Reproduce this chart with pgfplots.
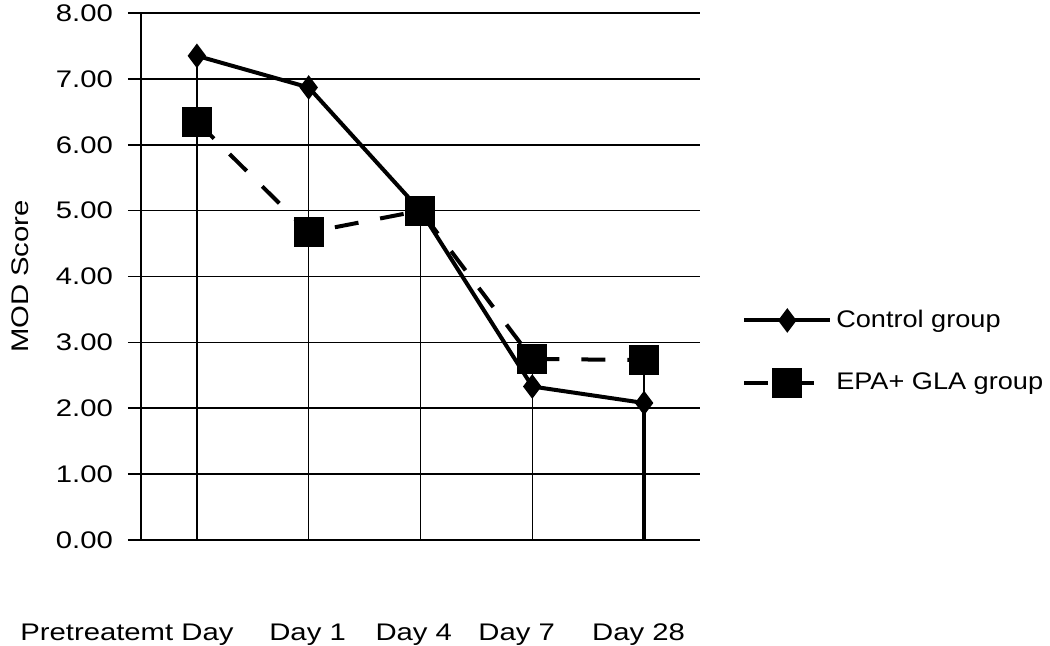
\documentclass[border=0pt]{standalone}
\usepackage{fontspec}
\setmainfont{Liberation Sans}
\newfontfamily\widefont[FakeStretch=1.22]{Liberation Sans}
\newfontfamily\legfont[FakeStretch=1.13]{Liberation Sans}
\usepackage{pgfplots}
\pgfplotsset{compat=1.18}

\begin{document}
\begin{tikzpicture}
\begin{axis}[
    scale only axis,
    width=279.5pt, height=263.5pt,
    xmin=-0.5, xmax=4.5, ymin=0, ymax=8,
    axis x line*=bottom, axis y line*=left,
    axis line style={-, black, line width=0.75pt},
    ytick={0,1,...,8},
    yticklabel style={xshift=-4pt, /pgf/number format/fixed, /pgf/number format/fixed zerofill,
      /pgf/number format/precision=2, /pgf/number format/assume math mode=true},
    ytick style={black, line width=0.75pt},
    tick align=outside, major tick length=6.5pt,
    xtick={0,0.99,1.94,2.86,3.95},
    xticklabels={Pretreatemt Day\hspace*{70pt}, Day 1, Day 4, Day 7, Day 28},
    xtick style={draw=none},
    xticklabel style={yshift=-32pt},
    ymajorgrids, grid style={black, line width=0.75pt},
    font=\widefont\fontsize{12}{14}\selectfont,
    ylabel={MOD Score},
    ylabel style={at={(axis description cs:-0.2165,0.5)}, anchor=center, rotate=0},
    legend style={draw=none, fill=none, at={(rel axis cs:1.075,0.358)}, anchor=west,
      inner sep=0pt, row sep=17pt, font=\legfont\fontsize{12}{14}\selectfont},
    legend cell align=left,
    legend image code/.code={\draw[mark repeat=2,mark phase=2,#1] plot coordinates {(0pt,0pt) (21.5pt,0pt) (43pt,0pt)};},
    clip=false,
  ]
  % drop lines
  \addplot[ycomb, black, line width=0.75pt, forget plot] coordinates {
    (0,7.35) (1,6.87) (2,5.0) (3,2.75) (4,2.73)};
  \addplot[ycomb, black, line width=2pt, forget plot] coordinates {(4,2.08)};
  \addplot[black, line width=2pt, mark=diamond*, mark size=4.5pt] coordinates {
    (0,7.35) (1,6.87) (2,5.0) (3,2.33) (4,2.08)};
  \addlegendentry{Control group}
  \addplot[black, line width=2pt, dash pattern=on 12pt off 11pt, mark=square*, mark size=6.5pt, mark options={solid}] coordinates {
    (0,6.35) (1,4.67) (2,5.0) (3,2.75) (4,2.73)};
  \addlegendentry{EPA+ GLA group}
  \coordinate (ll) at (rel axis cs:0,0);
\end{axis}
\pgfresetboundingbox
\path[use as bounding box] (ll) ++(-70.5pt,-53pt) rectangle ++(525pt,323pt);
\end{tikzpicture}
\end{document}
